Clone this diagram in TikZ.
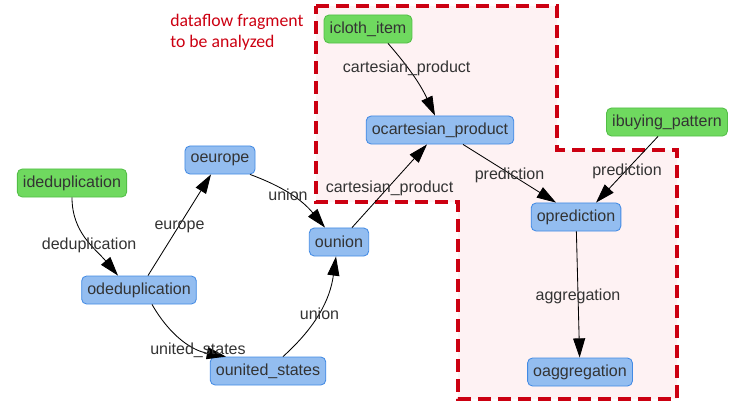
\documentclass[tikz,border=0pt]{standalone}
\usepackage{fontspec}
\setmainfont{Liberation Sans}
\newfontfamily\notefont{Carlito}
\usepackage{tikz}
\usetikzlibrary{arrows.meta}
\definecolor{ingreen}{RGB}{111,217,95}
\definecolor{ingreenline}{RGB}{82,190,70}
\definecolor{opblue}{RGB}{147,189,240}
\definecolor{opblueline}{RGB}{66,138,228}
\definecolor{fragred}{RGB}{204,0,17}
\definecolor{fragfill}{RGB}{254,242,243}
\definecolor{txtgray}{RGB}{51,51,51}

\begin{document}
\begin{tikzpicture}[
  x=0.025cm,y=-0.025cm,
  comp/.style={draw,rectangle,rounded corners=3.5pt,minimum height=0.7cm,inner xsep=4pt,inner ysep=2pt,font=\fontsize{11.4}{13}\selectfont,text=txtgray,line width=0.6pt},
  input/.style={comp,fill=ingreen,draw=ingreenline},
  oper/.style={comp,fill=opblue,draw=opblueline},
  frag/.style={draw=fragred,fill=fragfill,line width=2.2pt,dash pattern=on 0.32cm off 0.18cm},
  arr/.style={-{Triangle[length=0.48cm,width=0.3cm]},line width=0.6pt,black},
  lbl/.style={font=\fontsize{11.4}{13}\selectfont,text=txtgray,inner sep=1pt,yshift=-1.5pt}
]
\useasboundingbox (0,0) rectangle (740,407);

\draw[frag] (316,6) -- (557,6) -- (557,150) -- (677,150) -- (677,399) -- (458,399) -- (458,202) -- (316,202) -- cycle;
\node[anchor=north west,inner sep=0pt,align=left,text=fragred,font=\notefont\fontsize{12.6}{15}\selectfont] (note) at (170,14) {dataflow fragment\\to be analyzed};

\node[input] (idedup) at (72,183) {ideduplication};
\node[oper] (oeurope) at (220,160) {oeurope};
\node[oper] (odedup) at (139,290) {odeduplication};
\node[oper] (ounion) at (339,242) {ounion};
\node[oper] (ounited) at (268,371) {ounited\_states};
\node[input] (icloth) at (368,29) {icloth\_item};
\node[oper] (ocart) at (440,130) {ocartesian\_product};
\node[input] (ibuying) at (667,122) {ibuying\_pattern};
\node[oper] (opred) at (576,217) {oprediction};
\node[oper] (oagg) at (580,372) {oaggregation};

\draw[arr] (idedup) to[out=-90,in=130] node[lbl,pos=0.55]{deduplication} ([xshift=-0.525cm]odedup.north);
\draw[arr] (odedup) -- node[lbl]{europe} (oeurope);
\draw[arr] ([xshift=0.75cm]oeurope.south) to[bend left=15] node[lbl,pos=0.45]{union} ([xshift=-0.35cm]ounion.north);
\draw[arr] ([xshift=0.325cm]odedup.south) to[bend right=25] node[lbl,pos=0.7]{united\_states} ([xshift=-1.05cm]ounited.north);
\draw[arr] ([xshift=0.375cm]ounited.north) to[bend right=20] node[lbl]{union} ([xshift=-0.075cm]ounion.south);
\draw[arr] (ounion) -- node[lbl]{cartesian\_product} (ocart);
\draw[arr] ([xshift=0.5cm]icloth.south) to[bend left=8] node[lbl,pos=0.33]{cartesian\_product} ([xshift=-0.125cm]ocart.north);
\draw[arr] ([xshift=0.575cm]ocart.south) -- node[lbl]{prediction} ([xshift=-0.5cm]opred.north);
\draw[arr] ([xshift=-0.225cm]ibuying.south) -- node[lbl]{prediction} ([xshift=0.5cm]opred.north);
\draw[arr] (opred) -- node[lbl]{aggregation} (oagg);

\end{tikzpicture}
\end{document}
